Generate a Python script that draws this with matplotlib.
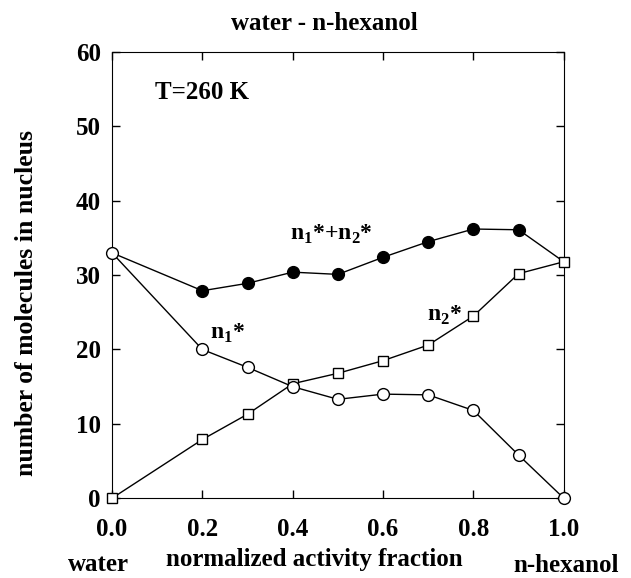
import numpy as np
from matplotlib import pyplot as plt

# activity fraction values
x = [0.0, 0.2, 0.3, 0.4, 0.5, 0.6, 0.7, 0.8, 0.9, 1.0]
n1 = [33.0, 20.0, 17.6, 15.0, 13.3, 14.0, 13.9, 11.8, 5.8, 0.0]
n2 = [0.0, 7.9, 11.3, 15.4, 16.8, 18.5, 20.6, 24.5, 30.2, 31.8]
total = [33.0, 27.9, 28.9, 30.4, 30.1, 32.4, 34.5, 36.2, 36.1, 31.8]

plt.rcParams['font.family'] = 'Liberation Serif'
plt.rcParams['font.weight'] = 'bold'
plt.rcParams['mathtext.fontset'] = 'custom'
plt.rcParams['mathtext.rm'] = 'Liberation Serif:bold'

fig = plt.figure(figsize=(6.31, 5.78), dpi=100)
ax = fig.add_axes([0.1775, 0.138, 0.716, 0.772])

# total line: markers only at interior points
ax.plot(x, total, color='black', lw=1.0, marker='o', ms=8.5,
        mfc='black', mec='black', markevery=list(range(1, 9)), zorder=2,
        clip_on=False)
ax.plot(x, n2, color='black', lw=1.0, marker='s', ms=7.5,
        mfc='white', mec='black', zorder=3, clip_on=False)
ax.plot(x, n1, color='black', lw=1.0, marker='o', ms=8.5,
        mfc='white', mec='black', zorder=4, clip_on=False)

ax.set_xlim(0, 1)
ax.set_ylim(0, 60)
ax.set_xticks(np.arange(0, 1.01, 0.2))
ax.set_xticklabels(['0.0', '0.2', '0.4', '0.6', '0.8', '1.0'])
ax.set_yticks(range(0, 61, 10))
ax.tick_params(direction='in', top=True, right=True, length=6, width=1,
               labelsize=18)
ax.tick_params(axis='x', pad=14)
ax.tick_params(axis='y', pad=8)
for lab in ax.get_xticklabels() + ax.get_yticklabels():
    lab.set_fontweight('bold')

ax.set_xlabel('normalized activity fraction', fontsize=18, fontweight='bold')
ax.xaxis.label.set_verticalalignment('baseline')
ax.xaxis.set_label_coords(0.447, -0.1525)
ax.set_ylabel('number of molecules in nucleus', fontsize=18.5, fontweight='bold')
ax.yaxis.set_label_coords(-0.164, 0.437)
ax.set_title('water - n-hexanol', fontsize=18, fontweight='bold', pad=16, x=0.471)

ax.text(0.095, 54.5, 'T=260 K', fontsize=18, fontweight='bold', va='center')
ax.text(0.394, 34.8, r'n$_\mathrm{1}$*+n$_\mathrm{2}$*', fontsize=17)
ax.text(0.217, 21.4, r'n$_\mathrm{1}$*', fontsize=17)
ax.text(0.697, 23.8, r'n$_\mathrm{2}$*', fontsize=17)

fig.text(0.108, 0.012, 'water', fontsize=18, fontweight='bold', va='baseline')
fig.text(0.813, 0.010, 'n-hexanol', fontsize=18, fontweight='bold', va='baseline')

fig.savefig('out.png', dpi=100)
